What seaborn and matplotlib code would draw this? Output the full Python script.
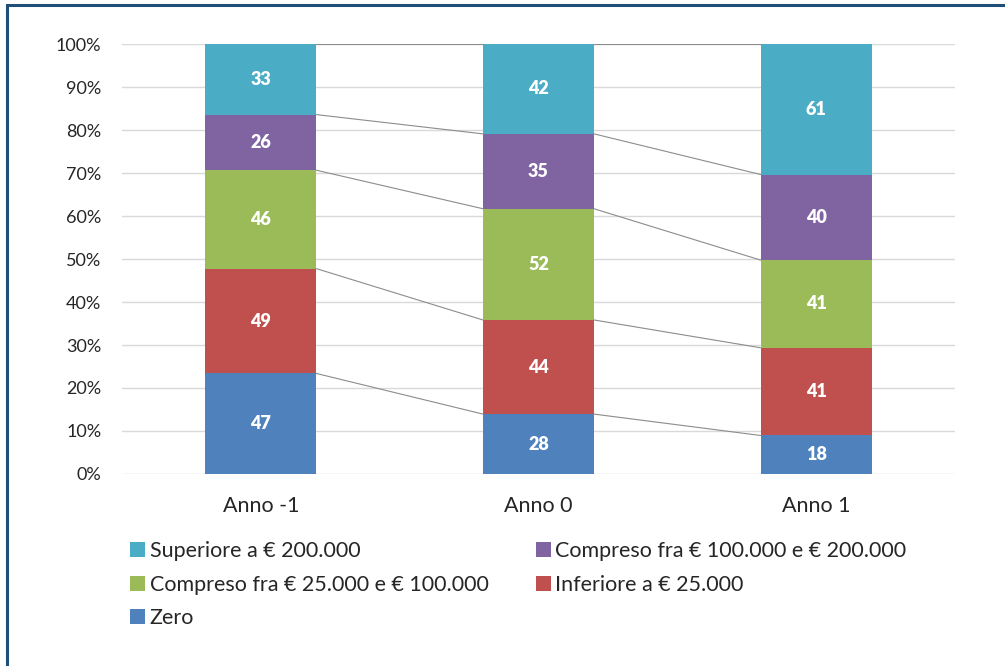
import matplotlib
matplotlib.use("Agg")
import matplotlib.pyplot as plt
import seaborn as sns
import numpy as np
import pandas as pd
from matplotlib.patches import Rectangle, Patch

years = ["Anno -1", "Anno 0", "Anno 1"]
series = ["Zero", "Inferiore a € 25.000", "Compreso fra € 25.000 e € 100.000",
          "Compreso fra € 100.000 e € 200.000", "Superiore a € 200.000"]
zero = [47, 28, 18]
inferiore = [49, 44, 41]
compreso_25_100 = [46, 52, 41]
compreso_100_200 = [26, 35, 40]
superiore = [33, 42, 61]
colors = ["#4F81BD", "#C0504D", "#9BBB59", "#8064A2", "#4BACC6"]

sns.set_theme(style="white")
plt.rcParams['font.family'] = ['Lato', 'DejaVu Sans']

vals = np.array([zero, inferiore, compreso_25_100, compreso_100_200, superiore], dtype=float)
totals = vals.sum(axis=0)
shares = vals / totals
cum = np.cumsum(shares, axis=0)

fig = plt.figure(figsize=(10.05, 6.66), dpi=100)
ax = fig.add_axes([0.1214, 0.2883, 0.8288, 0.6456])

# draw cumulative bars from top series down so lower segments overlay
for k in range(len(series) - 1, -1, -1):
    df = pd.DataFrame({"year": years, "cum": cum[k]})
    sns.barplot(data=df, x="year", y="cum", color=colors[k], saturation=1,
                width=0.4, linewidth=0, ax=ax, zorder=3)

# series lines
half = 0.2
for k in range(len(series)):
    for i in range(len(years) - 1):
        ax.plot([i + half, i + 1 - half], [cum[k][i], cum[k][i + 1]],
                color="#8C8C8C", lw=0.8, zorder=4)

# labels
for k in range(len(series)):
    for i in range(len(years)):
        mid = cum[k][i] - shares[k][i] / 2
        ax.text(i, mid, f"{int(vals[k][i])}", ha="center", va="center",
                color="white", fontsize=13, fontweight="heavy", zorder=5)

ax.set_xlim(-0.5, 2.5)
ax.set_ylim(0, 1)
ax.set_yticks(np.arange(0, 1.01, 0.1))
ax.set_yticklabels([f"{int(round(t*100))}%" for t in np.arange(0, 1.01, 0.1)], fontsize=13)
ax.tick_params(axis="x", labelsize=15.5, pad=16, length=0)
ax.tick_params(axis="y", length=0, pad=15)
ax.set_xlabel("")
ax.set_ylabel("")
ax.grid(axis="y", color="#D9D9D9", lw=1, zorder=0)
ax.set_axisbelow(True)
for s in ax.spines.values():
    s.set_visible(False)

order = [4, 2, 0, 3, 1]
handles = [Patch(facecolor=colors[k], edgecolor="none") for k in order]
labels = [series[k] for k in order]
fig.legend(handles, labels, ncol=2, loc="upper left",
           bbox_to_anchor=(0.121, 0.200), frameon=False, fontsize=15.5,
           handlelength=0.7, handleheight=0.7, handletextpad=0.2,
           columnspacing=2.2, labelspacing=0.62, borderaxespad=0)

# frame
fig.patches.append(Rectangle((7 / 1005, -0.2), 1.2, 1.2 - 5 / 666,
                             transform=fig.transFigure, fill=False,
                             edgecolor="#1F4E79", lw=2.2, zorder=10))

fig.savefig("out.png", dpi=100)
